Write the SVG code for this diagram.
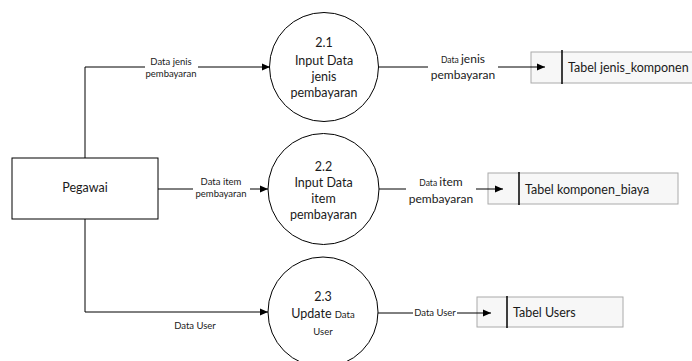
<svg xmlns="http://www.w3.org/2000/svg" width="692" height="361" viewBox="0 0 692 361">
<defs>
<marker id="ah" markerWidth="8" markerHeight="8" refX="8" refY="4" orient="auto" markerUnits="userSpaceOnUse">
<path d="M0,0.5 L8,4 L0,7.5 Z" fill="#000"/>
</marker>
<style>
text{font-family:Lato,"Open Sans","Liberation Sans",sans-serif;fill:#1a1a1a}
.c{text-anchor:middle}
.proc{font-size:12.5px}
.sm{font-size:9.5px}
.md{font-size:12px}
.xs{font-size:8.5px}
.st{font-size:12.5px}
.line{fill:none;stroke:#000;stroke-width:1}
.circ{fill:#fff;stroke:#000;stroke-width:1}
.store{fill:#f7f7f7;stroke:#aaa;stroke-width:1}
.div{stroke:#000;stroke-width:1.5}
</style>
</defs>
<rect width="692" height="361" fill="#fff"/>
<g id="pegawai">
<rect x="12" y="158" width="146" height="61" fill="#fff" stroke="#000" stroke-width="1"/>
<text class="c" x="85" y="192" font-size="12.5">Pegawai</text>
</g>
<g id="p21">
<circle class="circ" cx="324" cy="67" r="54.5"/>
<text class="c proc" x="324" y="47">2.1</text>
<text class="c proc" x="324" y="65">Input Data</text>
<text class="c proc" x="324" y="81">jenis</text>
<text class="c proc" x="324" y="97">pembayaran</text>
</g>
<g id="p22">
<circle class="circ" cx="323.5" cy="189" r="55.5"/>
<text class="c proc" x="323.5" y="171">2.2</text>
<text class="c proc" x="323.5" y="187">Input Data</text>
<text class="c proc" x="323.5" y="203">item</text>
<text class="c proc" x="323.5" y="219">pembayaran</text>
</g>
<g id="p23">
<circle class="circ" cx="323" cy="312" r="55"/>
<text class="c proc" x="323" y="301">2.3</text>
<text class="c" x="323" y="318"><tspan class="proc">Update </tspan><tspan class="sm">Data</tspan></text>
<text class="c sm" x="323" y="335">User</text>
</g>
<g id="tabel-jenis-komponen">
<rect class="store" x="531" y="52" width="170" height="31"/>
<line class="div" x1="562" y1="50" x2="562" y2="84"/>
<text class="st" x="568" y="72">Tabel jenis_komponen</text>
</g>
<g id="tabel-komponen-biaya">
<rect class="store" x="488" y="173" width="190" height="31"/>
<line class="div" x1="519" y1="172" x2="519" y2="205"/>
<text class="st" x="525" y="194">Tabel komponen_biaya</text>
</g>
<g id="tabel-users">
<rect class="store" x="477" y="297" width="146" height="30"/>
<line class="div" x1="507" y1="296" x2="507" y2="328"/>
<text class="st" x="513" y="317">Tabel Users</text>
</g>
<g id="connectors">
<path class="line" d="M85,158 V67 H270" marker-end="url(#ah)"/>
<rect x="145" y="58" width="53" height="22" fill="#fff"/>
<text class="c sm" x="171" y="65">Data jenis</text>
<text class="c sm" x="171" y="77">pembayaran</text>
<path class="line" d="M85,219 V312 H268" marker-end="url(#ah)"/>
<text class="c sm" x="195" y="329">Data User</text>
<path class="line" d="M158,189 H268" marker-end="url(#ah)"/>
<rect x="193" y="178" width="57" height="22" fill="#fff"/>
<text class="c sm" x="221" y="185">Data item</text>
<text class="c sm" x="221" y="197">pembayaran</text>
<path class="line" d="M379,67 H545" marker-end="url(#ah)"/>
<rect x="428" y="54" width="70" height="28" fill="#fff"/>
<text class="c" x="463" y="63"><tspan class="xs">Data </tspan><tspan class="md">jenis</tspan></text>
<text class="c md" x="463" y="79">pembayaran</text>
<path class="line" d="M379,189 H503" marker-end="url(#ah)"/>
<rect x="406" y="176" width="70" height="28" fill="#fff"/>
<text class="c" x="441" y="186"><tspan class="xs">Data </tspan><tspan class="md">item</tspan></text>
<text class="c md" x="441" y="203">pembayaran</text>
<path class="line" d="M378,313 H491" marker-end="url(#ah)"/>
<rect x="413" y="306" width="44" height="13" fill="#fff"/>
<text class="c sm" x="435" y="316">Data User</text>
</g>
</svg>
